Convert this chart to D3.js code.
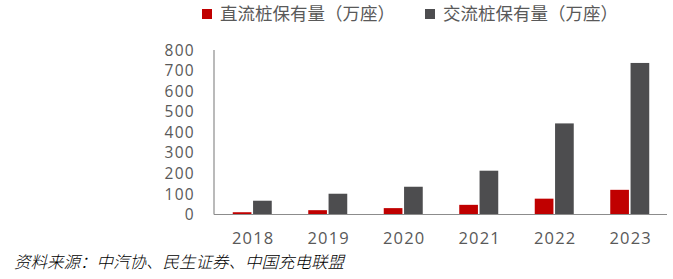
<!DOCTYPE html>
<html>
<head>
<meta charset="utf-8">
<script src="https://cdn.jsdelivr.net/npm/d3@7"></script>
<style>
  body { margin: 0; background: #fff; }
  svg { display: block; font-family: "Noto Sans CJK SC", "Noto Sans", sans-serif; }
</style>
</head>
<body>
<svg width="673" height="279"></svg>
<script>
const years = ['2018', '2019', '2020', '2021', '2022', '2023']
const dcValues = [11, 21, 31, 47, 77, 120]
const acValues = [67, 101, 135, 213, 443, 737]
const seriesNames = ['直流桩保有量（万座）', '交流桩保有量（万座）']
const yTicks = [0, 100, 200, 300, 400, 500, 600, 700, 800]

const svg = d3.select('svg')
const colors = ['#c00000', '#4d4d4f']

const x = d3.scaleBand().domain(years).range([214, 667])
const xInner = d3.scaleBand().domain([0, 1]).range([0, 39]).paddingInner(0.08)
const y = d3.scaleLinear().domain([0, 800]).range([214.5, 50])

const rows = years.map((yr, i) => ({ year: yr, vals: [dcValues[i], acValues[i]] }))

// bars
const groups = svg.selectAll('g.year')
  .data(rows)
  .enter()
  .append('g')
  .attr('class', 'year')
  .attr('transform', d => `translate(${x(d.year) + x.bandwidth() / 2 - 19.5 + 0.5}, 0)`)

groups.selectAll('rect')
  .data(d => d.vals)
  .enter()
  .append('rect')
  .attr('x', (d, i) => xInner(i))
  .attr('y', d => y(d))
  .attr('width', xInner.bandwidth())
  .attr('height', d => y(0) - y(d))
  .attr('fill', (d, i) => colors[i])

// axes lines
svg.append('line')
  .attr('x1', 214).attr('x2', 214)
  .attr('y1', y(800)).attr('y2', y(0))
  .attr('stroke', '#8c8c8c').attr('stroke-width', 1.2)
svg.append('line')
  .attr('x1', 214).attr('x2', 667)
  .attr('y1', y(0)).attr('y2', y(0))
  .attr('stroke', '#8c8c8c').attr('stroke-width', 1.2)

// y tick labels
svg.selectAll('text.ytick')
  .data(yTicks)
  .enter()
  .append('text')
  .attr('class', 'ytick')
  .attr('x', 195)
  .attr('y', d => y(d))
  .attr('dy', '0.36em')
  .attr('text-anchor', 'end')
  .attr('font-family', 'Open Sans, sans-serif')
  .attr('font-size', 15.5)
  .attr('letter-spacing', 1.3)
  .attr('fill', '#595959')
  .text(d => d)

// x tick labels
svg.selectAll('text.xtick')
  .data(years)
  .enter()
  .append('text')
  .attr('class', 'xtick')
  .attr('x', d => x(d) + x.bandwidth() / 2 + 1.5)
  .attr('y', 238)
  .attr('dy', '0.36em')
  .attr('text-anchor', 'middle')
  .attr('font-family', 'Open Sans, sans-serif')
  .attr('font-size', 16.5)
  .attr('letter-spacing', 1.2)
  .attr('fill', '#595959')
  .text(d => d)

// legend
const legendX = [202, 425]
const legend = svg.append('g')
legend.selectAll('rect')
  .data(seriesNames)
  .enter()
  .append('rect')
  .attr('x', (d, i) => legendX[i])
  .attr('y', 9)
  .attr('width', 10)
  .attr('height', 10)
  .attr('fill', (d, i) => colors[i])
legend.selectAll('text')
  .data(seriesNames)
  .enter()
  .append('text')
  .attr('x', (d, i) => legendX[i] + 18)
  .attr('y', 14)
  .attr('dy', '0.36em')
  .attr('font-size', 17.5)
  .attr('fill', '#595959')
  .text(d => d)

// source note
svg.append('text')
  .attr('x', 14)
  .attr('y', 262)
  .attr('dy', '0.36em')
  .attr('font-size', 16.5)
  .attr('font-style', 'italic')
  .attr('font-weight', 300)
  .attr('fill', '#000')
  .text('资料来源：中汽协、民生证券、中国充电联盟')
</script>
</body>
</html>
